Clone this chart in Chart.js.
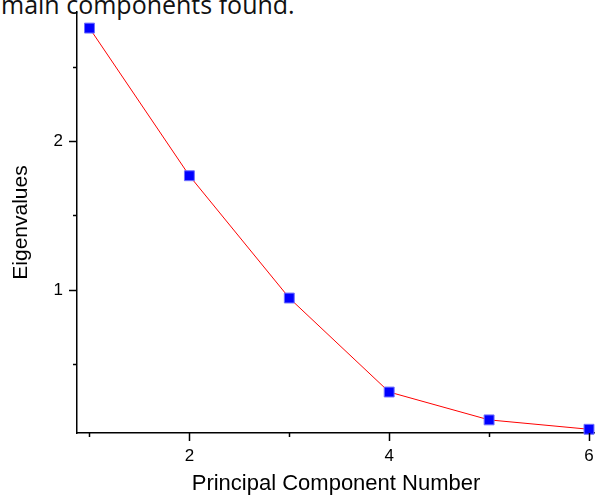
<!DOCTYPE html>
<html>
<head>
<meta charset="utf-8">
<script src="https://cdn.jsdelivr.net/npm/chart.js@4"></script>
<style>
  body { margin: 0; background: #fff; }
  #wrap { position: relative; width: 595px; height: 497px; overflow: hidden; }
  #caption { position: absolute; left: 1px; top: -8px; font: 25px/25px "Open Sans", sans-serif; color: #111; white-space: nowrap; }
  canvas { position: absolute; left: 0; top: 0; }
</style>
</head>
<body>
<div id="wrap">
  <div id="caption">main components found.</div>
  <canvas id="scree" width="595" height="497"></canvas>
</div>
<script>
var components = [1, 2, 3, 4, 5, 6];
var eigenvalues = [2.758, 1.767, 0.946, 0.315, 0.128, 0.065];
var xTicks = [1, 2, 3, 4, 5, 6];
var yTicks = [0.5, 1, 1.5, 2, 2.5];

var points = components.map(function (c, i) { return { x: c, y: eigenvalues[i] }; });

// draw outward tick marks: long ones for labelled ticks, short for the rest
var tickMarks = {
  id: "tickMarks",
  afterDraw: function (chart) {
    var ctx = chart.ctx;
    ctx.save();
    ctx.strokeStyle = "#000";
    ctx.lineWidth = 1.5;
    var xs = chart.scales.x, ys = chart.scales.y;
    xs.ticks.forEach(function (t) {
      var px = Math.round(xs.getPixelForValue(t.value)) + 0.5;
      var len = t.value % 2 === 0 ? 8 : 4;
      ctx.beginPath();
      ctx.moveTo(px, xs.top);
      ctx.lineTo(px, xs.top + len);
      ctx.stroke();
    });
    ys.ticks.forEach(function (t) {
      var py = Math.round(ys.getPixelForValue(t.value)) + 0.5;
      var len = Number.isInteger(t.value) ? 8 : 4;
      ctx.beginPath();
      ctx.moveTo(ys.right, py);
      ctx.lineTo(ys.right - len, py);
      ctx.stroke();
    });
    ctx.restore();
  }
};

var ctx = document.getElementById("scree").getContext("2d");
new Chart(ctx, {
  type: "line",
  data: {
    datasets: [{
      data: points,
      borderColor: "#ff0000",
      borderWidth: 1,
      pointStyle: "rect",
      pointRadius: 7,
      pointHoverRadius: 7,
      pointBackgroundColor: "#0000ff",
      pointBorderColor: "#7070ff",
      pointBorderWidth: 1,
      clip: false,
      tension: 0
    }]
  },
  options: {
    responsive: false,
    animation: false,
    layout: { autoPadding: false, padding: { top: 12, right: 0, bottom: 0, left: 0 } },
    plugins: { legend: { display: false }, tooltip: { enabled: false } },
    scales: {
      x: {
        type: "linear",
        min: 0.875,
        max: 6.06,
        afterBuildTicks: function (s) { s.ticks = xTicks.map(function (v) { return { value: v }; }); },
        afterFit: function (s) { s.height = 64; s.paddingLeft = 0; s.paddingRight = 0; },
        grid: { drawOnChartArea: false, drawTicks: false },
        border: { display: true, color: "#000", width: 1.5 },
        ticks: {
          padding: 13,
          color: "#000",
          font: { family: "Liberation Sans", size: 17 },
          maxRotation: 0,
          callback: function (v) { return v % 2 === 0 ? String(v) : ""; }
        },
        title: {
          display: true,
          text: "Principal Component Number",
          color: "#000",
          font: { family: "Liberation Sans", size: 22 },
          padding: 0
        }
      },
      y: {
        min: 0.04,
        max: 2.866,
        afterBuildTicks: function (s) { s.ticks = yTicks.map(function (v) { return { value: v }; }); },
        afterFit: function (s) { s.width = 77; s.paddingTop = 0; s.paddingBottom = 0; },
        grid: { drawOnChartArea: false, drawTicks: false },
        border: { display: true, color: "#000", width: 1.5 },
        ticks: {
          padding: 14,
          color: "#000",
          font: { family: "Liberation Sans", size: 17 },
          callback: function (v) { return Number.isInteger(v) ? String(v) : ""; }
        },
        title: {
          display: true,
          text: "Eigenvalues",
          color: "#000",
          font: { family: "Liberation Sans", size: 21 },
          padding: { top: 9, bottom: 0 }
        }
      }
    }
  },
  plugins: [tickMarks]
});
</script>
</body>
</html>
